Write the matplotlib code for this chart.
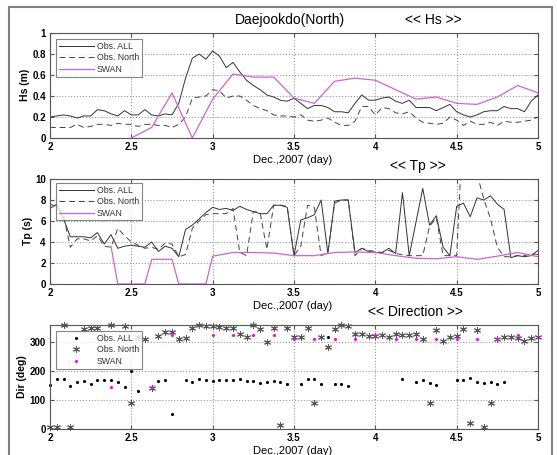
import numpy as np
import matplotlib
matplotlib.use("Agg")
import matplotlib.pyplot as plt
from matplotlib.patches import Rectangle

plt.rcParams["font.family"] = ["Liberation Sans", "DejaVu Sans"]

# hourly observations, Dec 2 00h .. Dec 5 00h
hours = np.arange(73)
hs_all = [0.20, 0.21, 0.22, 0.21, 0.19, 0.21, 0.21, 0.27, 0.26, 0.23, 0.21, 0.26, 0.22, 0.22, 0.27, 0.22,
          0.21, 0.23, 0.22, 0.33, 0.57, 0.76, 0.80, 0.75, 0.83, 0.78, 0.67, 0.72, 0.63, 0.55, 0.50, 0.46,
          0.41, 0.39, 0.36, 0.35, 0.38, 0.33, 0.28, 0.31, 0.31, 0.29, 0.25, 0.25, 0.24, 0.33, 0.41, 0.36,
          0.36, 0.38, 0.39, 0.35, 0.33, 0.36, 0.29, 0.29, 0.29, 0.26, 0.29, 0.32, 0.25, 0.22, 0.20, 0.22,
          0.25, 0.26, 0.26, 0.30, 0.28, 0.28, 0.25, 0.35, 0.41]
hs_north = [0.10, 0.10, 0.10, 0.10, 0.13, 0.10, 0.11, 0.13, 0.13, 0.12, 0.14, 0.13, 0.13, 0.11, 0.13, 0.13,
            0.12, 0.12, 0.10, 0.13, 0.20, 0.38, 0.39, 0.40, 0.46, 0.45, 0.38, 0.40, 0.40, 0.36, 0.31, 0.28,
            0.26, 0.22, 0.21, 0.21, 0.20, 0.22, 0.17, 0.16, 0.17, 0.19, 0.15, 0.12, 0.12, 0.16, 0.30, 0.30,
            0.22, 0.29, 0.28, 0.24, 0.23, 0.25, 0.19, 0.15, 0.14, 0.13, 0.14, 0.20, 0.17, 0.12, 0.16, 0.13,
            0.13, 0.15, 0.12, 0.16, 0.15, 0.15, 0.16, 0.17, 0.20]
tp_all = [7.2, 7.6, 6.2, 4.5, 4.5, 4.5, 4.4, 4.9, 3.8, 4.7, 3.4, 3.6, 3.7, 3.6, 3.5, 4.0,
          3.1, 3.6, 3.4, 2.6, 5.2, 5.6, 6.2, 6.8, 7.3, 7.1, 7.2, 7.0, 7.4, 7.1, 6.9, 6.7,
          6.7, 7.5, 7.5, 7.3, 2.7, 6.1, 6.3, 6.6, 8.0, 2.9, 7.9, 8.0, 8.0, 3.0, 3.4, 3.1,
          3.0, 3.0, 3.4, 2.9, 8.7, 2.7, 5.9, 9.1, 5.6, 6.5, 3.5, 2.7, 7.4, 7.7, 6.4, 8.2,
          8.0, 8.4, 7.6, 7.1, 2.5, 2.7, 2.6, 2.7, 3.2]
tp_north = [7.6, 7.4, 6.5, 3.5, 4.3, 4.3, 4.1, 4.6, 3.6, 3.5, 5.3, 4.6, 4.0, 3.7, 3.4, 3.5,
            3.3, 3.9, 3.8, 2.6, 2.8, 5.3, 6.0, 6.6, 6.7, 6.7, 6.7, 7.2, 3.0, 2.7, 6.9, 6.8,
            3.3, 7.5, 7.5, 7.4, 2.7, 3.6, 7.5, 7.3, 2.7, 3.0, 7.7, 8.0, 8.0, 2.7, 3.4, 3.2,
            3.1, 3.0, 3.2, 2.9, 2.8, 2.7, 2.7, 2.7, 5.5, 6.3, 2.7, 2.7, 2.7, 16.0, 17.0, 10.5,
            8.1, 6.2, 3.5, 2.6, 2.6, 2.7, 2.7, 2.9, 2.8]
nan = np.nan
dir_all = [154, 174, 172, 150, 161, 166, 156, 171, 170, 170, 164, 147, 200, 132, 313, 142,
           166, 171, 51, 311, 170, 164, 172, 171, 166, 168, 168, 171, 174, 166, 166, 160,
           162, 166, 163, 156, 317, 156, 173, 174, 156, 317, 157, 157, 149, 328, 328, 323,
           323, 326, 320, 328, 172, 326, 164, 169, 158, 154, 305, 319, 168, 168, 176, 164,
           160, 163, 156, 164, 319, 315, 305, 315, 317]
dir_north = [6, 6, 359, 6, nan, 345, 349, 349, nan, 359, nan, 357, 89, 317, 313, 142,
             323, 336, 336, 311, 315, 349, 359, 357, 357, 353, 349, 349, 328, 317, 359, 345,
             300, 349, 15, 351, 317, 317, 351, 89, 317, 285, 345, 359, 357, 328, 328, 323,
             323, 326, 320, 328, 326, 326, 328, 311, 89, 342, 305, 319, 323, 345, 21, 342,
             7, 89, 311, 319, 319, 315, 305, 315, 317]

# SWAN model output
swan_hs_hours = [12, 15, 18, 21, 24, 27, 30, 33, 36, 39, 42, 45, 48, 51, 54, 57, 60, 63, 66, 69, 72]
swan_hs = [0.0, 0.10, 0.43, 0.0, 0.37, 0.61, 0.58, 0.58, 0.38, 0.33, 0.54, 0.57, 0.55, 0.46, 0.37,
           0.39, 0.33, 0.32, 0.39, 0.50, 0.43]
swan_tp_hours = [9, 10, 11, 12, 13, 14, 15, 16, 17, 18, 19, 20, 21, 22, 23, 24,
                 27, 30, 33, 36, 39, 42, 45, 48, 51, 54, 57, 60, 63, 66, 69, 72]
swan_tp = [3.6, 0, 0, 0, 0, 0, 2.35, 2.35, 2.35, 2.35, 0, 0, 0, 0, 0, 2.65,
           3.0, 3.0, 2.95, 2.7, 2.7, 3.0, 3.05, 3.0, 2.7, 2.45, 2.4, 2.6, 2.35, 2.65, 3.0, 2.6]
swan_dir_hours = [9, 15, 18, 24, 27, 30, 33, 36, 39, 42, 45, 48, 51, 54, 57, 60, 63, 66, 69, 72]
swan_dir = [146, 146, 326, 326, 326, 326, 326, 313, 313, 313, 313, 326, 313, 313, 313, 313, 313, 313, 326, 317]

day = 2 + hours / 24
W, H = 557, 455
fig = plt.figure(figsize=(W / 100, H / 100), dpi=100)
fig.patches.append(Rectangle((8.5 / W, -0.1), 543 / W, 1.1 - 7.5 / H, transform=fig.transFigure,
                             fill=False, edgecolor="#808080", lw=1.5))

c_all, c_north, c_swan = "#333333", "#444444", "#cc66cc"


def make_ax(top, bottom):
    ax = fig.add_axes([50 / W, (H - bottom) / H, 488 / W, (bottom - top) / H])
    ax.set_xlim(2, 5)
    ax.set_xticks([2, 2.5, 3, 3.5, 4, 4.5, 5])
    ax.set_xticklabels(["2", "2.5", "3", "3.5", "4", "4.5", "5"])
    ax.grid(True, linestyle=":", color="#999999", lw=0.8)
    ax.tick_params(direction="in", top=True, right=True, length=3, labelsize=7, pad=3, color="#555555")
    for lab in ax.get_xticklabels() + ax.get_yticklabels():
        lab.set_fontweight("bold")
    for s in ax.spines.values():
        s.set_color("#555555")
        s.set_linewidth(0.8)
    return ax


leg_kw = dict(loc="upper left", fontsize=6.3, frameon=True, fancybox=False, edgecolor="#666666",
              handlelength=4.0, labelspacing=0.3, borderpad=0.3, handletextpad=0.4,
              borderaxespad=0, labelcolor="#333333")

# Hs
ax1 = make_ax(33, 138)
ax1.plot(day, hs_all, color=c_all, lw=0.7, label="Obs. ALL")
ax1.plot(day, hs_north, color=c_north, lw=0.7, ls=(0, (6, 4)), label="Obs. North")
ax1.plot(2 + np.array(swan_hs_hours) / 24, swan_hs, color=c_swan, lw=0.9, label="SWAN")
ax1.set_ylim(0, 1)
ax1.set_yticks([0, 0.2, 0.4, 0.6, 0.8, 1])
ax1.set_yticklabels(["0", "0.2", "0.4", "0.6", "0.8", "1"])
for lab in ax1.get_yticklabels():
    lab.set_fontweight("bold")
l = ax1.legend(bbox_to_anchor=(6 / 488, 99 / 105), **leg_kw)
l.get_frame().set_linewidth(0.8)

# Tp
ax2 = make_ax(179, 284)
ax2.plot(day, tp_all, color=c_all, lw=0.7, label="Obs. ALL")
ax2.plot(day, tp_north, color=c_north, lw=0.7, ls=(0, (6, 4)), label="Obs. North")
ax2.plot(2 + np.array(swan_tp_hours) / 24, swan_tp, color=c_swan, lw=0.9, label="SWAN")
ax2.set_ylim(0, 10)
ax2.set_yticks([0, 2, 4, 6, 8, 10])
for lab in ax2.get_yticklabels():
    lab.set_fontweight("bold")
l = ax2.legend(bbox_to_anchor=(6 / 488, 101 / 105), **leg_kw)
l.get_frame().set_linewidth(0.8)

# Direction
ax3 = make_ax(325, 429)
ax3.plot(day, dir_all, ls="none", marker=".", ms=2.5, color="black", label="Obs. ALL", clip_on=False)
ax3.plot(day, dir_north, ls="none", marker=(6, 2, 0), ms=5, mew=0.7, color="#555555",
         label="Obs. North", clip_on=False)
ax3.plot(2 + np.array(swan_dir_hours) / 24, swan_dir, ls="none", marker=".", ms=2.5, color="#ff00ff",
         label="SWAN", clip_on=False)
ax3.set_ylim(0, 360)
ax3.set_yticks([0, 100, 200, 300])
for lab in ax3.get_yticklabels():
    lab.set_fontweight("bold")
l = ax3.legend(bbox_to_anchor=(6 / 488, 98 / 104), numpoints=1, **leg_kw)
l.get_frame().set_linewidth(0.8)

# texts
def ftext(x, y, s, **kw):
    fig.text(x / W, 1 - y / H, s, ha="center", va="center", **kw)

ftext(290, 20, "Daejookdo(North)", fontsize=10)
ftext(433, 20, "<< Hs >>", fontsize=10)
ftext(418, 166, "<< Tp >>", fontsize=10)
ftext(415, 312, "<< Direction >>", fontsize=10)
for y in (160, 306, 451):
    ftext(293, y, "Dec.,2007 (day)", fontsize=8)
ftext(25, 85, "Hs (m)", fontsize=7.5, rotation=90, fontweight="bold")
ftext(28, 231, "Tp (s)", fontsize=7.5, rotation=90, fontweight="bold")
ftext(22, 377, "Dir (deg)", fontsize=7.5, rotation=90, fontweight="bold")

fig.savefig("out.png", dpi=100)
